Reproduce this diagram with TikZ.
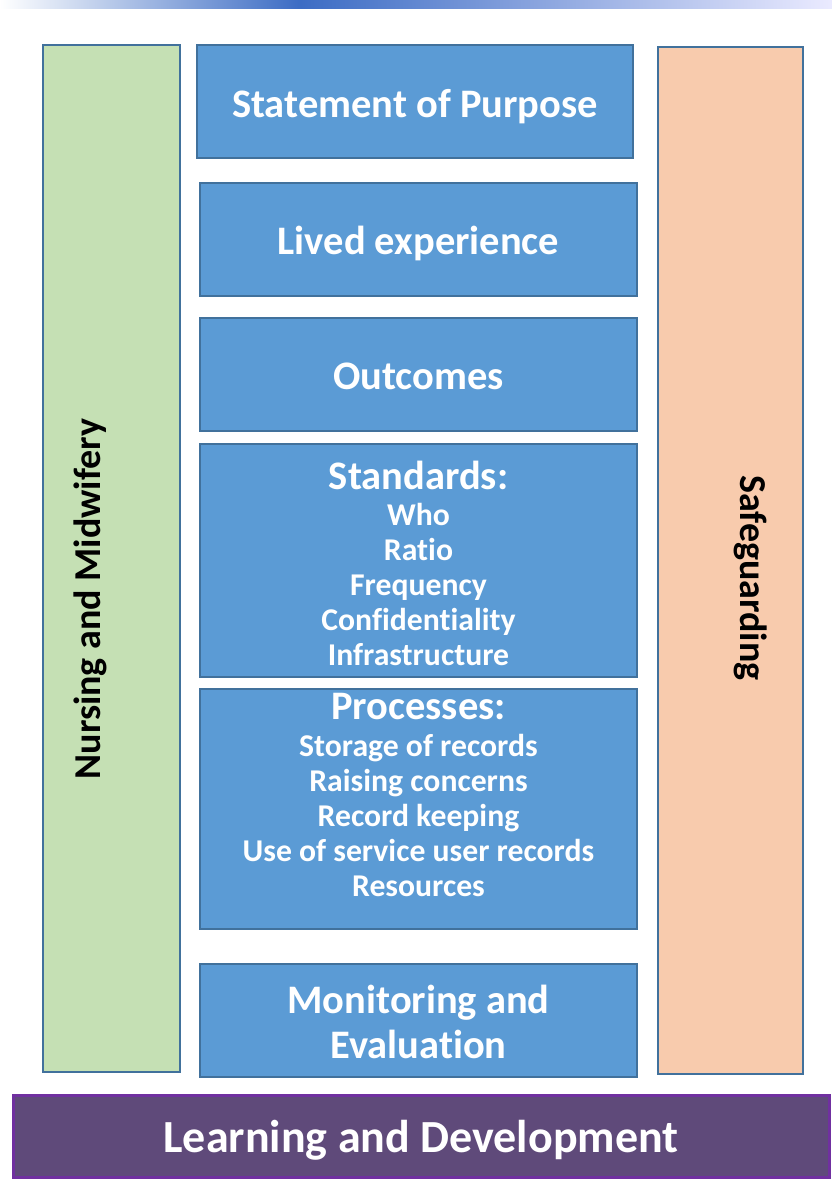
\documentclass[tikz,border=0pt]{standalone}
\usepackage{fontspec}
\setmainfont{Carlito}[Ligatures=CommonOff]
\usepackage{tikz}
\usetikzlibrary{positioning}
\definecolor{boxblue}{HTML}{5B9BD5}
\definecolor{edgeblue}{HTML}{41719C}
\definecolor{nmgreen}{HTML}{C5E0B4}
\definecolor{sgpeach}{HTML}{F8CBAD}
\definecolor{ldfill}{HTML}{5F4A7A}
\definecolor{ldedge}{HTML}{7030A0}
\definecolor{bannerblue}{HTML}{3C6CC4}
\newcommand{\headsize}{\fontsize{40.5}{45}\selectfont}
\newcommand{\itemsize}{\fontsize{31.7}{35}\selectfont}
\newcommand{\sidesize}{\fontsize{38}{40}\selectfont}

\begin{document}
\begin{tikzpicture}[x=1pt,y=-1pt]
    %\draw[help lines] (0,0) grid[step=100] (832,1179);
        \useasboundingbox (0,0) rectangle (832,1179);
        \tikzset{
          bluebox/.style = {draw=edgeblue, line width=2pt, fill=boxblue,
                            minimum width=437pt, text=white, align=center,
                            font=\bfseries\headsize, inner sep=0pt},
          sidebox/.style = {draw=edgeblue, line width=2pt, minimum height=1027pt,
                            inner sep=0pt},
          sidetext/.style = {font=\bfseries\sidesize},
          listtext/.style = {text=white, align=center, font=\bfseries\itemsize}
        }
        % strip of the banner above
        \shade[left color=white, right color=bannerblue] (0,0) rectangle (300,8);
        \shade[left color=bannerblue, right color=blue!8] (300,0) rectangle (832,8);

        % side columns
        \node[sidebox, fill=nmgreen, minimum width=137pt] (nurs) at (111.5,558.5) {};
        \node[sidetext, rotate=90] (nurst) at (90,599) {Nursing and Midwifery};
        \node[sidebox, fill=sgpeach, minimum width=145pt] (safe) at (730.5,560) {};
        \node[sidetext, rotate=-90] (safet) at (751,578) {Safeguarding};

        % middle column
        \node[bluebox, minimum width=436pt, minimum height=113pt] (sop) at (415,101.5) {};
        \node[listtext, font=\bfseries\headsize] (sopt) at (415,107) {Statement of Purpose};
        \node[bluebox, minimum height=113pt] (lived) at (418.5,239.5) {};
        \node[listtext, font=\bfseries\headsize] (livedt) at (418.5,243) {Lived experience};
        \node[bluebox, minimum height=113pt] (outc) at (418.5,374.5) {};
        \node[listtext, font=\bfseries\headsize] (outct) at (418.5,376) {Outcomes};
        \node[bluebox, minimum height=233pt] (stand) at (418.5,560.5) {};
        \node[listtext, anchor=north] (standt) at (418.5,458)
            {\headsize Standards:\\[1pt]Who\\Ratio\\Frequency\\Confidentiality\\Infrastructure};
        \node[bluebox, minimum height=240pt] (proc) at (418.5,809) {};
        \node[listtext, anchor=north] (proct) at (418.5,690)
            {\headsize Processes:\\[2pt]Storage of records\\Raising concerns\\Record keeping\\Use of service user records\\Resources};
        \node[bluebox, minimum height=113pt] (mon) at (418.5,1020.5) {};
        \node[listtext, font=\bfseries\headsize] (mont) at (418.5,1022) {Monitoring and\\Evaluation};

        % base
        \node[draw=ldedge, line width=3pt, fill=ldfill, minimum width=816pt, minimum height=82pt,
              text=white, font=\bfseries\fontsize{46}{50}\selectfont] (learn) at (421,1136) {};
        \node[text=white, font=\bfseries\fontsize{46}{50}\selectfont] (learnt) at (421,1140) {Learning and Development};
\end{tikzpicture}
\end{document}
